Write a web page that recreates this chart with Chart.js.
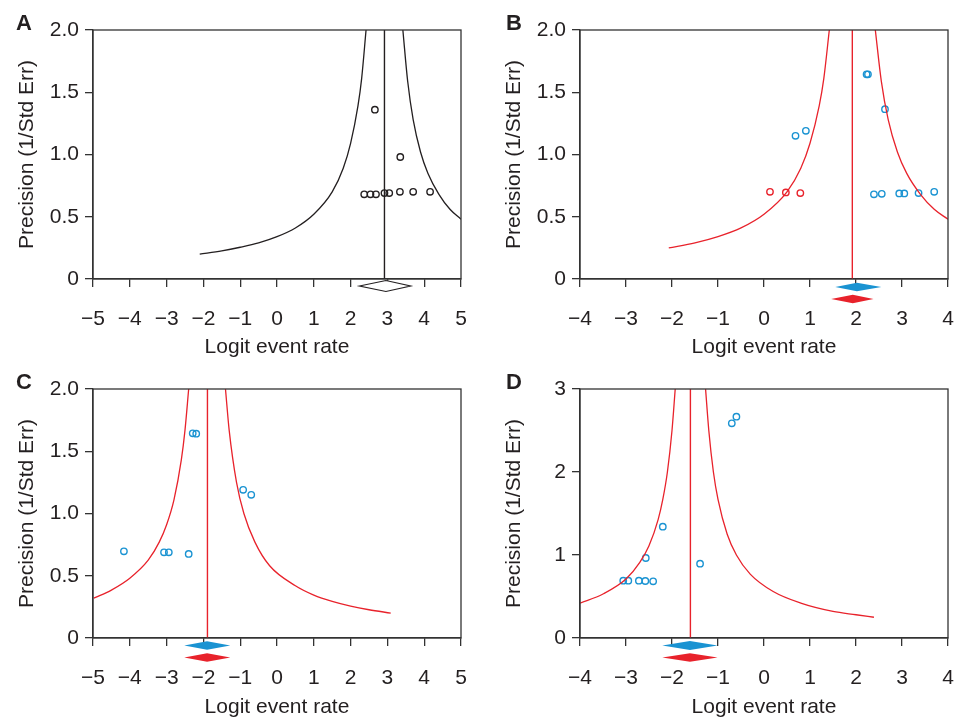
<!DOCTYPE html>
<html>
<head>
<meta charset="utf-8">
<script src="https://cdn.jsdelivr.net/npm/chart.js@4/dist/chart.umd.min.js"></script>
<style>
  body { margin: 0; background: #fff; overflow: hidden; }
  #wrap { position: relative; width: 967px; height: 720px; overflow: hidden; }
  #wrap canvas { position: absolute; }
</style>
</head>
<body>
<div id="wrap">
  <canvas id="chartA" width="480" height="360" style="left:0;top:0"></canvas>
  <canvas id="chartB" width="480" height="360" style="left:487px;top:0"></canvas>
  <canvas id="chartC" width="480" height="360" style="left:0;top:360px"></canvas>
  <canvas id="chartD" width="480" height="360" style="left:487px;top:360px"></canvas>
</div>
<script>
// ---- panel A ----
const aStudyX = [2.66, 3.35, 2.37, 2.54, 2.69, 2.92, 3.05, 3.34, 3.70, 4.16];
const aStudyY = [1.36, 0.98, 0.68, 0.68, 0.68, 0.69, 0.69, 0.70, 0.70, 0.70];
const aLeftX = [-2.1, -1.5, -1.0, -0.5, 0.0, 0.5, 1.0, 1.5, 1.8, 2.0, 2.2, 2.3, 2.42];
const aLeftY = [0.20, 0.226, 0.255, 0.29, 0.34, 0.41, 0.52, 0.70, 0.89, 1.09, 1.39, 1.61, 2.0];
const aRightX = [3.42, 3.55, 3.7, 3.9, 4.1, 4.4, 4.7, 5.0];
const aRightY = [2.0, 1.59, 1.28, 1.02, 0.85, 0.68, 0.56, 0.48];
const aMean = 2.92;
const aDiamond = [2.24, 2.96, 3.63];

// ---- panel B ----
const bBlueX = [2.23, 2.26, 2.63, 0.685, 0.91, 2.39, 2.56, 2.94, 3.05, 3.36, 3.70];
const bBlueY = [1.644, 1.644, 1.364, 1.15, 1.19, 0.68, 0.684, 0.687, 0.687, 0.69, 0.70];
const bRedX = [0.13, 0.475, 0.79];
const bRedY = [0.70, 0.695, 0.69];
const bLeftX = [-2.07, -1.5, -1.0, -0.5, 0.0, 0.5, 0.8, 1.0, 1.2, 1.3, 1.42];
const bLeftY = [0.25, 0.29, 0.34, 0.41, 0.52, 0.70, 0.89, 1.09, 1.39, 1.61, 2.0];
const bRightX = [2.42, 2.55, 2.7, 2.9, 3.1, 3.4, 3.7, 4.0];
const bRightY = [2.0, 1.59, 1.28, 1.02, 0.85, 0.68, 0.56, 0.48];
const bMean = 1.92;
const bBlueDiamond = [1.55, 2.02, 2.55];
const bRedDiamond = [1.46, 1.93, 2.38];

// ---- panel C ----
const cStudyX = [-2.29, -2.195, -0.92, -0.70, -4.16, -3.07, -2.94, -2.40];
const cStudyY = [1.644, 1.641, 1.19, 1.15, 0.696, 0.688, 0.688, 0.675];
const cLeftX = [-4.98, -4.5, -4.0, -3.5, -3.2, -3.0, -2.8, -2.6, -2.5, -2.4];
const cLeftY = [0.32, 0.385, 0.48, 0.625, 0.77, 0.91, 1.11, 1.43, 1.67, 2.0];
const cRightX = [-1.4, -1.3, -1.1, -0.9, -0.6, -0.2, 0.5, 1.0, 1.5, 2.0, 2.5, 3.09];
const cRightY = [2.0, 1.67, 1.25, 1.0, 0.77, 0.58, 0.42, 0.345, 0.294, 0.256, 0.227, 0.20];
const cMean = -1.89;
const cBlueDiamond = [-2.52, -1.90, -1.27];
const cRedDiamond = [-2.52, -1.90, -1.27];

// ---- panel D ----
const dStudyX = [-0.70, -0.60, -2.20, -2.57, -1.39, -3.06, -2.95, -2.72, -2.58, -2.41];
const dStudyY = [2.586, 2.667, 1.341, 0.964, 0.896, 0.691, 0.691, 0.691, 0.687, 0.683];
const dLeftX = [-4.0, -3.5, -3.0, -2.7, -2.5, -2.3, -2.2, -2.1, -2.0, -1.93];
const dLeftY = [0.42, 0.53, 0.71, 0.91, 1.11, 1.43, 1.67, 2.0, 2.5, 3.0];
const dRightX = [-1.27, -1.2, -1.1, -1.0, -0.8, -0.6, -0.3, 0.2, 0.8, 1.5, 2.0, 2.39];
const dRightY = [3.0, 2.5, 2.0, 1.67, 1.25, 1.0, 0.77, 0.56, 0.42, 0.32, 0.28, 0.25];
const dMean = -1.60;
const dBlueDiamond = [-2.21, -1.61, -1.01];
const dRedDiamond = [-2.21, -1.61, -1.01];

const FONT = "'Liberation Sans', Arial, sans-serif";
const INK = '#231f20';
const AXIS = '#333';
const BLUE = '#1a93d2';
const RED = '#e8222b';

Chart.defaults.font.family = FONT;
Chart.defaults.color = INK;

const toPoints = (xs, ys) => xs.map((x, i) => ({ x: x, y: ys[i] }));

function curve(xs, ys, color) {
    return {
        data: toPoints(xs, ys),
        showLine: true,
        pointRadius: 0,
        borderColor: color,
        borderWidth: 1.3,
        cubicInterpolationMode: 'monotone'
    };
}

function studies(xs, ys, color) {
    return {
        data: toPoints(xs, ys),
        showLine: false,
        pointStyle: 'circle',
        pointRadius: 3.2,
        borderWidth: 1.4,
        borderColor: color,
        backgroundColor: 'rgba(255,255,255,0)'
    };
}

function meanLine(m, yMax, color) {
    return {
        data: [{ x: m, y: 0 }, { x: m, y: yMax }],
        showLine: true,
        pointRadius: 0,
        borderColor: color,
        borderWidth: 1.4
    };
}

// frame, summary diamonds under the axis, panel letter
const panelDecor = {
    id: 'panelDecor',
    afterDraw(chart, args, opts) {
        const { ctx, chartArea: a } = chart;
        const xs = chart.scales.x;
        ctx.save();
        ctx.strokeStyle = AXIS;
        ctx.lineWidth = 1.3;
        ctx.strokeRect(a.left, a.top, a.right - a.left, a.bottom - a.top);

        opts.diamonds.forEach(d => {
            const l = xs.getPixelForValue(d.values[0]);
            const m = xs.getPixelForValue(d.values[1]);
            const r = xs.getPixelForValue(d.values[2]);
            const cy = a.bottom + d.offset;
            ctx.beginPath();
            ctx.moveTo(l, cy);
            ctx.lineTo(m, cy - d.half);
            ctx.lineTo(r, cy);
            ctx.lineTo(m, cy + d.half);
            ctx.closePath();
            ctx.fillStyle = d.fill;
            ctx.fill();
            if (d.stroke) {
                ctx.strokeStyle = d.stroke;
                ctx.lineWidth = 1.2;
                ctx.stroke();
            }
        });

        ctx.fillStyle = INK;
        ctx.font = 'bold 22px ' + FONT;
        ctx.textBaseline = 'alphabetic';
        ctx.fillText(opts.letter, opts.letterX, opts.letterY);
        ctx.restore();
    }
};

const minus = v => (v < 0 ? '\u2212' + Math.abs(v) : String(v));

function makePanel(id, p) {
    new Chart(document.getElementById(id), {
        type: 'scatter',
        data: { datasets: p.datasets },
        plugins: [panelDecor],
        options: {
            responsive: false,
            animation: false,
            devicePixelRatio: 1,
            events: [],
            layout: { padding: { top: p.top, right: 19, left: 0, bottom: 0 } },
            plugins: {
                legend: { display: false },
                tooltip: { enabled: false },
                panelDecor: { diamonds: p.diamonds, letter: p.letter, letterX: p.letterX, letterY: p.letterY }
            },
            scales: {
                x: {
                    type: 'linear',
                    min: p.xMin,
                    max: p.xMax,
                    afterFit: s => {
                        s.height = p.xHeight;
                        s.paddingLeft = 0;
                        s.paddingRight = 0;
                    },
                    ticks: { stepSize: 1, padding: 20, font: { size: 21 }, color: INK, callback: minus },
                    grid: { drawOnChartArea: false, tickLength: 8, color: AXIS, lineWidth: 1.3 },
                    border: { color: AXIS, width: 1.3 },
                    title: { display: true, text: 'Logit event rate', font: { size: 21 }, color: INK, padding: { top: 0, bottom: 0 } }
                },
                y: {
                    type: 'linear',
                    min: 0,
                    max: p.yMax,
                    afterFit: s => {
                        s.width = 93;
                        s.paddingTop = 0;
                        s.paddingBottom = 0;
                    },
                    ticks: {
                        stepSize: p.yStep,
                        padding: 6,
                        font: { size: 21 },
                        color: INK,
                        callback: v => (v === 0 ? '0' : (p.yStep < 1 ? v.toFixed(1) : String(v)))
                    },
                    grid: { drawOnChartArea: false, tickLength: 8, color: AXIS, lineWidth: 1.3 },
                    border: { color: AXIS, width: 1.3 },
                    title: { display: true, text: 'Precision (1/Std Err)', font: { size: 21 }, color: INK, padding: { top: 15, bottom: 0 } }
                }
            }
        }
    });
}

makePanel('chartA', {
    xMin: -5, xMax: 5, yMax: 2, yStep: 0.5, top: 30, xHeight: 81,
    letter: 'A', letterX: 16, letterY: 30,
    datasets: [
        curve(aLeftX, aLeftY, INK),
        curve(aRightX, aRightY, INK),
        meanLine(aMean, 2, INK),
        studies(aStudyX, aStudyY, INK)
    ],
    diamonds: [{ values: aDiamond, offset: 7, half: 5.5, fill: '#fff', stroke: INK }]
});

makePanel('chartB', {
    xMin: -4, xMax: 4, yMax: 2, yStep: 0.5, top: 30, xHeight: 81,
    letter: 'B', letterX: 19, letterY: 30,
    datasets: [
        curve(bLeftX, bLeftY, RED),
        curve(bRightX, bRightY, RED),
        meanLine(bMean, 2, RED),
        studies(bBlueX, bBlueY, BLUE),
        studies(bRedX, bRedY, RED)
    ],
    diamonds: [
        { values: bBlueDiamond, offset: 8, half: 4.3, fill: BLUE },
        { values: bRedDiamond, offset: 20, half: 4.3, fill: RED }
    ]
});

makePanel('chartC', {
    xMin: -5, xMax: 5, yMax: 2, yStep: 0.5, top: 29, xHeight: 82,
    letter: 'C', letterX: 16, letterY: 29,
    datasets: [
        curve(cLeftX, cLeftY, RED),
        curve(cRightX, cRightY, RED),
        meanLine(cMean, 2, RED),
        studies(cStudyX, cStudyY, BLUE)
    ],
    diamonds: [
        { values: cBlueDiamond, offset: 7.5, half: 4.3, fill: BLUE },
        { values: cRedDiamond, offset: 19.5, half: 4.3, fill: RED }
    ]
});

makePanel('chartD', {
    xMin: -4, xMax: 4, yMax: 3, yStep: 1, top: 29, xHeight: 82,
    letter: 'D', letterX: 19, letterY: 29,
    datasets: [
        curve(dLeftX, dLeftY, RED),
        curve(dRightX, dRightY, RED),
        meanLine(dMean, 3, RED),
        studies(dStudyX, dStudyY, BLUE)
    ],
    diamonds: [
        { values: dBlueDiamond, offset: 7.5, half: 4.5, fill: BLUE },
        { values: dRedDiamond, offset: 19.5, half: 4.3, fill: RED }
    ]
});
</script>
</body>
</html>
